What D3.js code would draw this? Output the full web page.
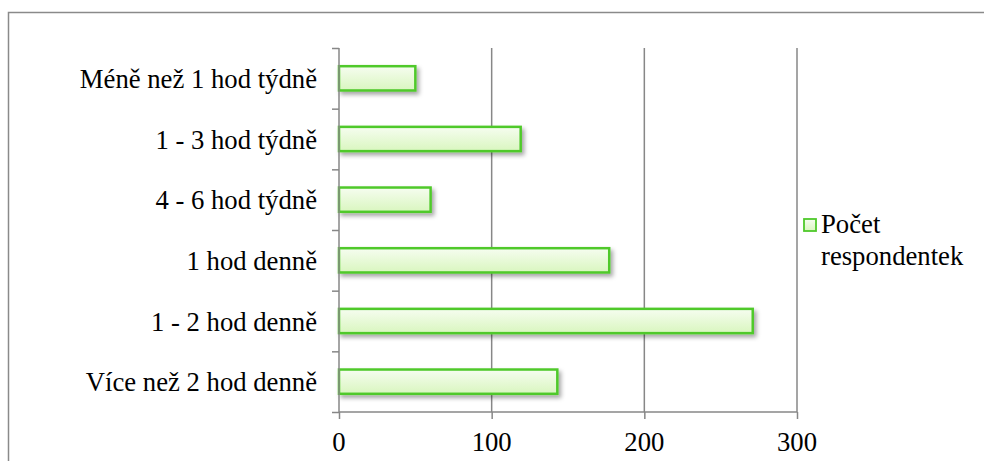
<!DOCTYPE html>
<html>
<head>
<meta charset="utf-8">
<script src="https://cdn.jsdelivr.net/npm/d3@7/dist/d3.min.js"></script>
<style>
  html, body { margin: 0; padding: 0; background: #fff; }
  svg { display: block; }
</style>
</head>
<body>
<svg id="chart" width="984" height="461"></svg>
<script>
// Weekly time spent: number of respondents per category
const categories = [
  "Méně než 1 hod týdně",
  "1 - 3 hod týdně",
  "4 - 6 hod týdně",
  "1 hod denně",
  "1 - 2 hod denně",
  "Více než 2 hod denně"
];
const values = [50, 119, 60, 177, 271, 143];
const xTicks = [0, 100, 200, 300];
const seriesName = ["Počet", "respondentek"];

const svg = d3.select("#chart");
const fontSize = 26.7;
const labelFont = "'Times New Roman', 'Liberation Serif', Tinos, serif";

const plot = { left: 339, right: 797, top: 48, bottom: 412 };

const x = d3.scaleLinear().domain([0, 300]).range([plot.left, plot.right]);
const y = d3.scaleBand().domain(categories).range([plot.top, plot.bottom])
  .paddingInner(0.6).paddingOuter(0.3);
const yEdges = d3.scaleLinear().domain([0, categories.length]).range([plot.top, plot.bottom]);
const rows = categories.map((c, i) => ({ c, v: values[i] }));

const defs = svg.append("defs");
const grad = defs.append("linearGradient")
  .attr("id", "barFill").attr("x1", 0).attr("y1", 0).attr("x2", 0).attr("y2", 1);
grad.append("stop").attr("offset", "0%").attr("stop-color", "#f6fdf0");
grad.append("stop").attr("offset", "100%").attr("stop-color", "#d9f6bf");

const shadow = defs.append("filter").attr("id", "barShadow")
  .attr("x", "-10%").attr("y", "-40%").attr("width", "130%").attr("height", "200%");
shadow.append("feDropShadow")
  .attr("dx", 2.5).attr("dy", 3).attr("stdDeviation", 2)
  .attr("flood-color", "#000").attr("flood-opacity", 0.35);

// frame around the chart area
svg.append("path")
  .attr("d", "M8.5,470 L8.5,12.5 L990,12.5")
  .attr("fill", "none")
  .attr("stroke", "#8a8a8a")
  .attr("stroke-width", 1.5);

// vertical gridlines
svg.append("g")
  .selectAll("line")
  .data(xTicks.filter(d => d > 0))
  .join("line")
  .attr("x1", d => x(d)).attr("x2", d => x(d))
  .attr("y1", plot.top).attr("y2", plot.bottom)
  .attr("stroke", "#878787").attr("stroke-width", 1.5);

// bars
svg.append("g")
  .selectAll("rect")
  .data(rows)
  .join("rect")
  .attr("x", x(0))
  .attr("y", d => y(d.c))
  .attr("width", d => x(d.v) - x(0))
  .attr("height", y.bandwidth())
  .attr("fill", "url(#barFill)")
  .attr("stroke", "#4fc92b")
  .attr("stroke-width", 2.5)
  .attr("filter", "url(#barShadow)");

// left axis: category separators
const leftAxis = svg.append("g")
  .attr("transform", `translate(${plot.left},0)`)
  .call(d3.axisLeft(yEdges).ticks(categories.length).tickSize(7).tickFormat(""));
leftAxis.selectAll("path, line").attr("stroke", "#878787").attr("stroke-width", 1.5);
leftAxis.select(".domain").attr("d", `M0,${plot.top}V${plot.bottom}`);

// bottom axis (lines only; its labels are drawn below with the serif font)
const bottomAxis = svg.append("g")
  .attr("transform", `translate(0,${plot.bottom})`)
  .call(d3.axisBottom(x).tickValues(xTicks).tickSize(7).tickFormat(""));
bottomAxis.selectAll("path, line").attr("stroke", "#878787").attr("stroke-width", 1.5);
bottomAxis.select(".domain").attr("d", `M${plot.left},0H${plot.right}`);

// tick labels of the value axis
svg.selectAll("text.xtick")
  .data(xTicks)
  .join("text")
  .attr("class", "xtick")
  .attr("x", d => x(d))
  .attr("y", 451)
  .attr("text-anchor", "middle")
  .attr("font-family", "Times New Roman")
  .style("font-family", labelFont)
  .style("font-size", fontSize + "px")
  .text(d => d);

// category labels
svg.selectAll("text.cat")
  .data(categories)
  .join("text")
  .attr("class", "cat")
  .attr("x", 317)
  .attr("y", d => y(d) + y.bandwidth() / 2 + 9.5)
  .attr("text-anchor", "end")
  .attr("font-family", "Times New Roman")
  .style("font-family", labelFont)
  .style("font-size", fontSize + "px")
  .text(d => d);

// legend
svg.append("rect")
  .attr("x", 804).attr("y", 219).attr("width", 12).attr("height", 12)
  .attr("fill", "url(#barFill)").attr("stroke", "#4fc92b").attr("stroke-width", 1.8);
svg.selectAll("text.legend")
  .data(seriesName)
  .join("text")
  .attr("class", "legend")
  .attr("x", 821)
  .attr("y", (d, i) => 233 + i * 32)
  .attr("font-family", "Times New Roman")
  .style("font-family", labelFont)
  .style("font-size", fontSize + "px")
  .text(d => d);
</script>
</body>
</html>
